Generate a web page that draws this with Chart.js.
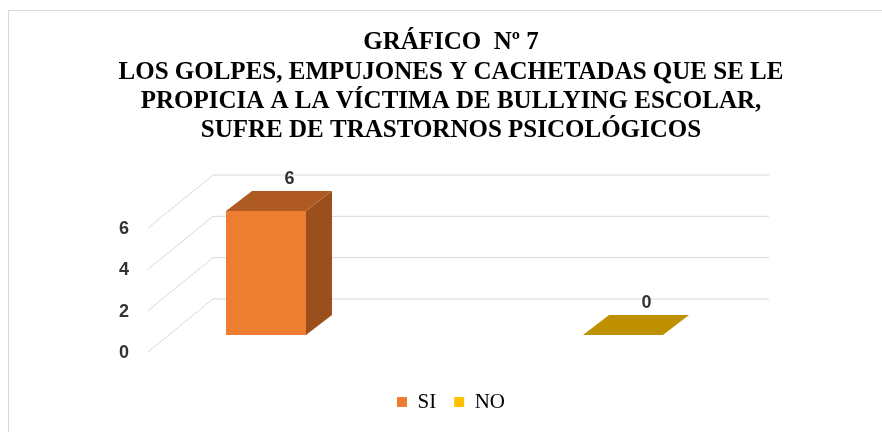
<!DOCTYPE html>
<html>
<head>
<meta charset="utf-8">
<script src="https://cdn.jsdelivr.net/npm/chart.js@4.4.1/dist/chart.umd.min.js"></script>
<style>
  html, body { margin: 0; padding: 0; background: #fff; overflow: hidden; }
  #wrap { width: 882px; height: 432px; }
</style>
</head>
<body>
<div id="wrap"><canvas id="chart" width="882" height="432"></canvas></div>
<script>
// data
const categories = ['SI', 'NO'];
const values = [6, 0];
const yTicks = [0, 2, 4, 6];
const titleLines = [
  'GRÁFICO  Nº 7',
  'LOS GOLPES, EMPUJONES Y CACHETADAS QUE SE LE',
  'PROPICIA A LA VÍCTIMA DE BULLYING ESCOLAR,',
  'SUFRE DE TRASTORNOS PSICOLÓGICOS'
];

// colours for each face of the 3d bars
const frontColors = ['#ED7D31', '#FFC000'];
const topColors = ['#AF5A22', '#BF9000'];
const sideColors = ['#9B4F1D', '#A67D00'];

// 3d offsets (px) relative to the plane of the bars' front faces
const barDepth = { x: 26, y: -20 };
const floorFront = { x: -21, y: 17 };
const wallBack = { x: 44, y: -36 };
const wallInset = { left: 81.5, right: 76.5 };

const gridColor = '#D9D9D9';
const labelFont = 'bold 18px "Liberation Sans", Arial, sans-serif';
const labelColor = '#333333';
const serif = '"Liberation Serif", "Times New Roman", serif';

// light frame around the chart
const framePlugin = {
  id: 'frame',
  beforeDraw(chart) {
    const ctx = chart.ctx;
    ctx.save();
    ctx.strokeStyle = '#D9D9D9';
    ctx.lineWidth = 1;
    ctx.strokeRect(8.5, 10.5, 1000, 1000);
    ctx.restore();
  }
};

// back wall, side wall and tick labels, then the 3d faces of the bars
const wallPlugin = {
  id: 'walls',
  beforeDatasetsDraw(chart) {
    const { ctx, chartArea } = chart;
    const yScale = chart.scales.y;
    const xl = chartArea.left + wallInset.left;
    const xr = chartArea.right - wallInset.right;
    ctx.save();
    ctx.strokeStyle = gridColor;
    ctx.lineWidth = 1;
    yTicks.forEach(v => {
      const y = yScale.getPixelForValue(v);
      ctx.beginPath();
      ctx.moveTo(xl + floorFront.x, y + floorFront.y);
      ctx.lineTo(xl + wallBack.x, y + wallBack.y);
      ctx.lineTo(xr + wallBack.x, y + wallBack.y);
      ctx.stroke();
    });
    ctx.fillStyle = labelColor;
    ctx.font = labelFont;
    ctx.textAlign = 'right';
    ctx.textBaseline = 'middle';
    yTicks.forEach(v => {
      const y = yScale.getPixelForValue(v);
      ctx.fillText(String(v), xl + floorFront.x - 19, y + floorFront.y + 1);
    });
    ctx.restore();
  },
  afterDatasetsDraw(chart) {
    const { ctx } = chart;
    const meta = chart.getDatasetMeta(0);
    ctx.save();
    meta.data.forEach((bar, i) => {
      const half = bar.width / 2;
      const x0 = bar.x - half;
      const x1 = bar.x + half;
      const top = bar.y;
      const base = bar.base;
      // side face
      if (base - top > 0.5) {
        ctx.fillStyle = sideColors[i];
        ctx.beginPath();
        ctx.moveTo(x1, top);
        ctx.lineTo(x1 + barDepth.x, top + barDepth.y);
        ctx.lineTo(x1 + barDepth.x, base + barDepth.y);
        ctx.lineTo(x1, base);
        ctx.closePath();
        ctx.fill();
      }
      // top face
      ctx.fillStyle = topColors[i];
      ctx.beginPath();
      ctx.moveTo(x0, top);
      ctx.lineTo(x1, top);
      ctx.lineTo(x1 + barDepth.x, top + barDepth.y);
      ctx.lineTo(x0 + barDepth.x, top + barDepth.y);
      ctx.closePath();
      ctx.fill();
      // value label
      ctx.fillStyle = labelColor;
      ctx.font = labelFont;
      ctx.textAlign = 'center';
      ctx.textBaseline = 'bottom';
      ctx.fillText(String(values[i]), bar.x + barDepth.x * 0.9, top + barDepth.y - 3);
    });
    ctx.restore();
  }
};

new Chart(document.getElementById('chart'), {
  type: 'bar',
  data: {
    labels: categories,
    datasets: [{
      data: values,
      backgroundColor: frontColors,
      borderWidth: 0,
      barPercentage: 0.224,
      categoryPercentage: 1
    }]
  },
  options: {
    responsive: false,
    animation: false,
    devicePixelRatio: 1,
    layout: { padding: { left: 87.5, right: 67.5, top: 0, bottom: 9.5 } },
    scales: {
      x: {
        display: true,
        grid: { display: false },
        border: { display: false },
        ticks: { display: false },
        afterFit: s => { s.height = 38.5; }
      },
      y: {
        // labels and grid are drawn by the walls plugin; this axis only reserves room on the right
        position: 'right',
        display: true,
        min: 0,
        max: 6,
        grid: { display: false },
        border: { display: false },
        ticks: { display: false, stepSize: 2 },
        afterFit: s => { s.width = 13; }
      }
    },
    plugins: {
      tooltip: { enabled: false },
      title: {
        display: true,
        text: titleLines,
        color: '#000',
        font: { family: serif, size: 25, weight: 'bold', lineHeight: 1.173 },
        padding: { top: 28.3, bottom: 65.4 }
      },
      legend: {
        position: 'bottom',
        labels: {
          boxWidth: 10,
          boxHeight: 10,
          padding: 18,
          color: '#1a1a1a',
          font: { family: serif, size: 21 },
          generateLabels: () => categories.map((c, i) => ({
            text: c,
            fillStyle: frontColors[i],
            strokeStyle: frontColors[i],
            lineWidth: 0,
            hidden: false,
            index: i
          }))
        }
      }
    }
  },
  plugins: [framePlugin, wallPlugin]
});
</script>
</body>
</html>
